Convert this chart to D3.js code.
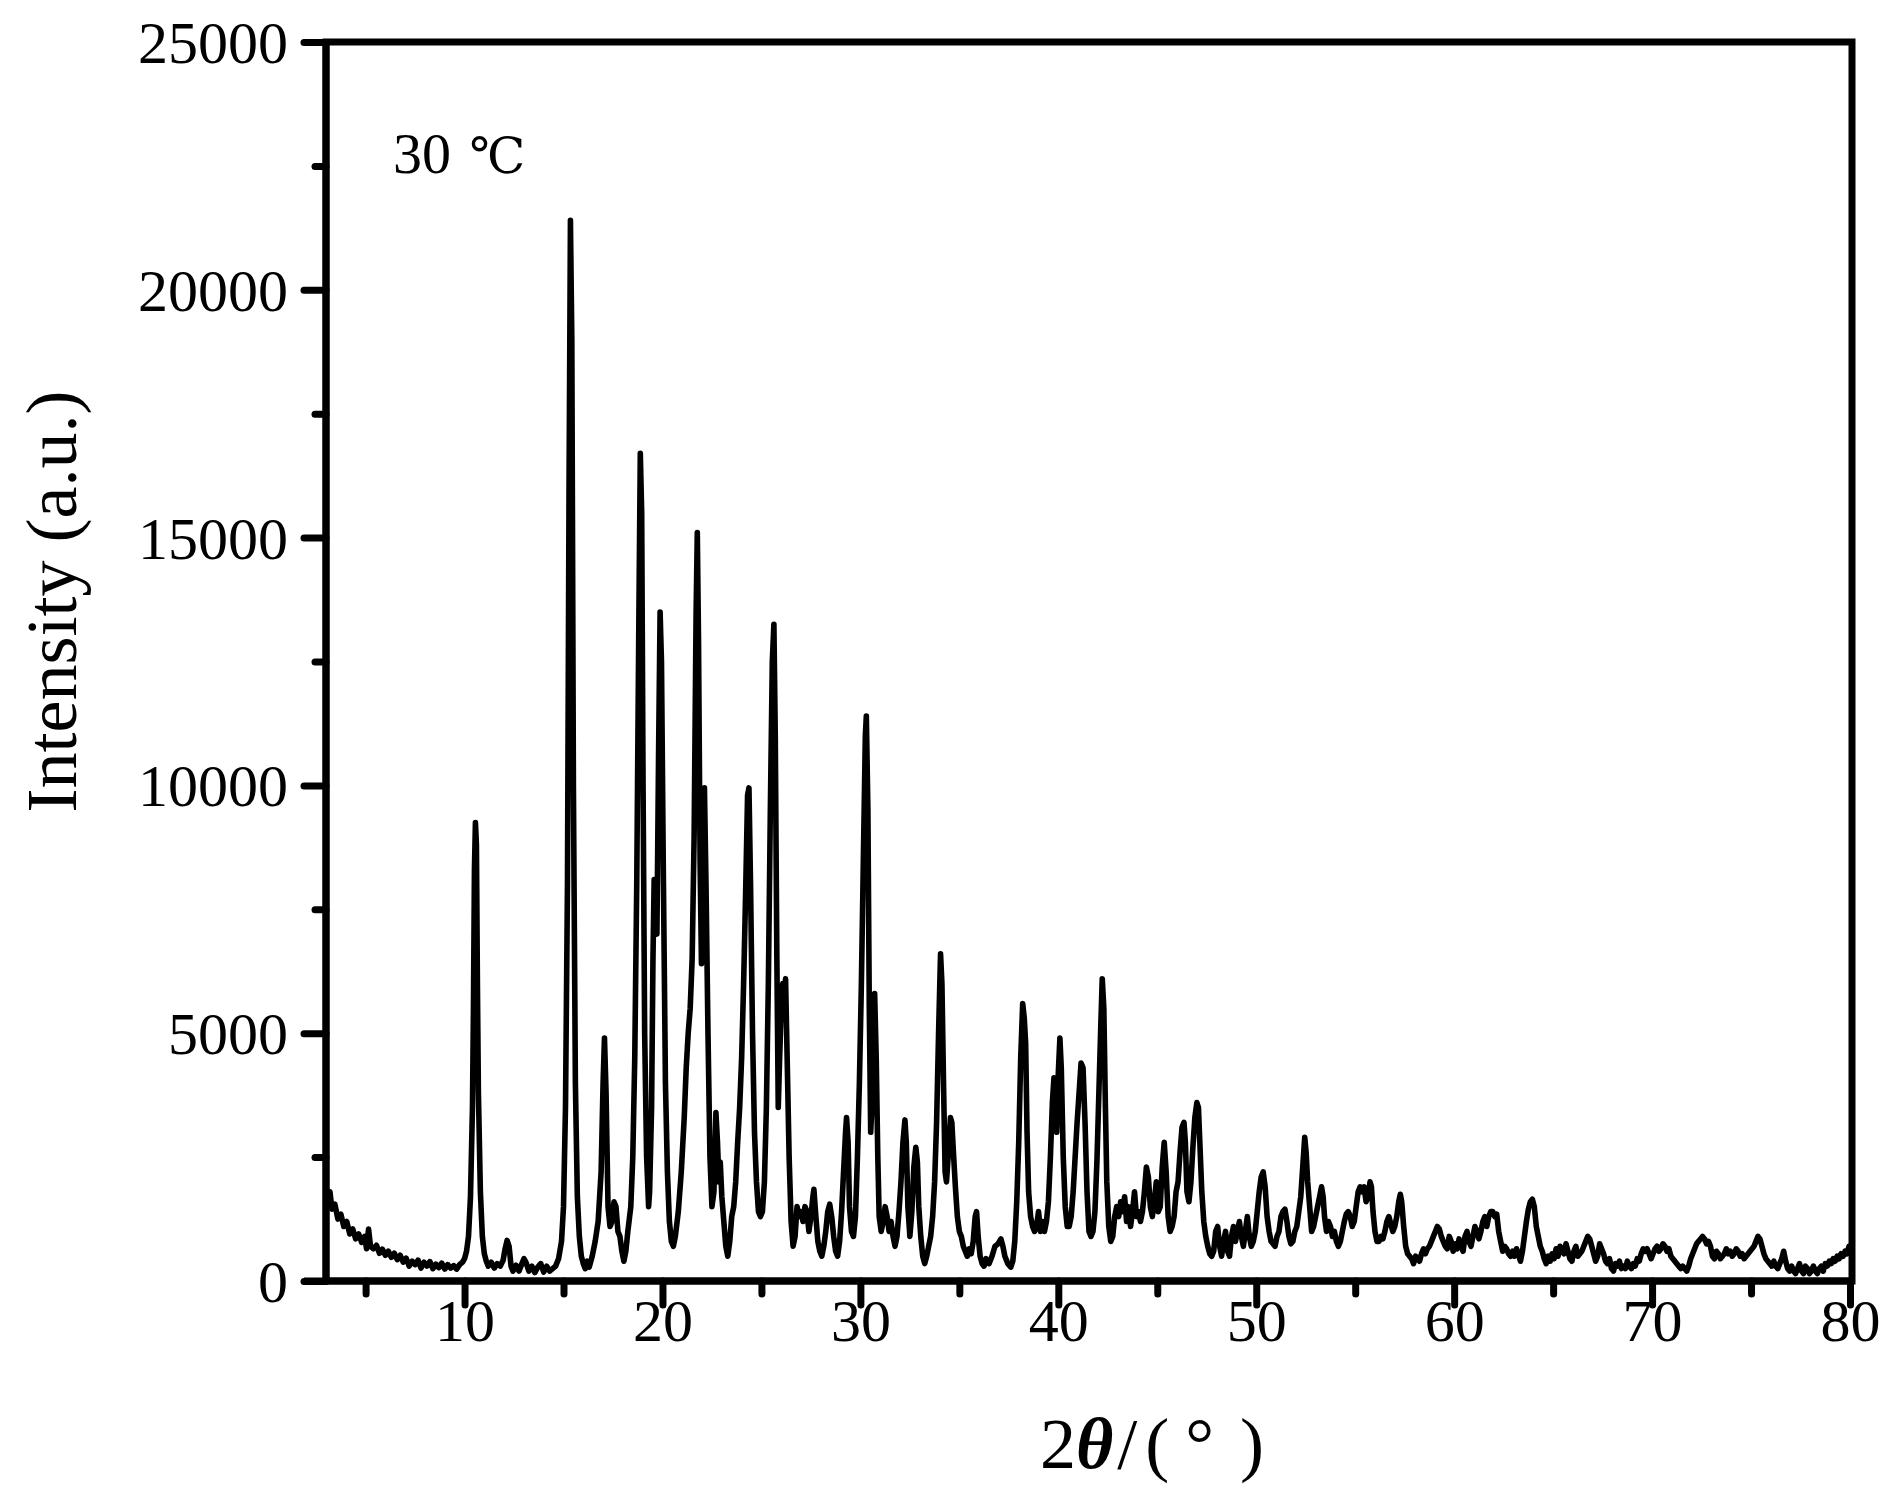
<!DOCTYPE html>
<html>
<head>
<meta charset="utf-8">
<script src="https://cdn.jsdelivr.net/npm/d3@7"></script>
<style>
  html, body { margin: 0; padding: 0; background: #fff; }
  svg { display: block; }
  text { font-family: "Times New Roman", "Liberation Serif", serif; fill: #000; }
</style>
</head>
<body>
<svg id="chart" width="1899" height="1490"></svg>
<script>
// ---- data ----
const sampleLabel = "30 ℃";
const xTickValues = [10, 20, 30, 40, 50, 60, 70, 80];
const xMinorTicks = [5, 15, 25, 35, 45, 55, 65, 75];
const yTickValues = [0, 5000, 10000, 15000, 20000, 25000];
const yMinorTicks = [2500, 7500, 12500, 17500, 22500];
const xDomain = [3, 80];
const yDomain = [0, 25000];

// XRD scan: [2θ (deg), intensity (a.u.)]
const xrdScan = [
[3.0,1750],[3.1,1500],[3.2,1800],[3.3,1450],[3.45,1550],[3.6,1250],[3.75,1350],[3.9,1100],[4.05,1200],[4.2,950],
[4.35,1050],[4.5,850],[4.65,950],[4.8,780],[4.95,900],[5.05,650],[5.15,1050],[5.25,700],[5.4,650],[5.55,720],
[5.7,560],[5.85,640],[6.0,520],[6.15,600],[6.3,480],[6.45,560],[6.6,430],[6.75,520],[6.9,380],[7.05,460],
[7.2,300],[7.35,400],[7.5,330],[7.65,420],[7.8,260],[7.95,380],[8.1,300],[8.25,390],[8.4,250],[8.55,340],
[8.7,270],[8.85,360],[9.0,240],[9.15,330],[9.3,260],[9.45,310],[9.6,240],[9.75,330],[9.9,380],[10.0,450],
[10.1,600],[10.2,900],[10.3,1700],[10.4,3500],[10.45,5500],[10.5,8300],[10.55,9250],[10.6,8800],[10.65,6000],[10.7,3800],
[10.8,1800],[10.9,900],[11.0,550],[11.1,400],[11.2,300],[11.35,380],[11.5,260],[11.65,350],[11.8,300],[11.95,420],
[12.05,650],[12.15,820],[12.25,700],[12.35,300],[12.45,200],[12.6,320],[12.75,200],[12.9,350],[13.0,450],[13.1,380],
[13.25,200],[13.4,300],[13.55,170],[13.7,280],[13.85,350],[14.0,180],[14.15,300],[14.3,200],[14.45,250],[14.6,300],
[14.75,450],[14.9,800],[15.0,1500],[15.1,3500],[15.2,8000],[15.28,16000],[15.35,21400],[15.42,19000],[15.5,10000],[15.6,4000],
[15.7,1700],[15.8,900],[15.9,500],[16.0,350],[16.1,250],[16.2,400],[16.3,280],[16.45,500],[16.6,800],[16.75,1200],
[16.9,2200],[17.0,4000],[17.07,4900],[17.15,3800],[17.25,1500],[17.35,1100],[17.45,1200],[17.55,1600],[17.65,1500],[17.75,1000],
[17.85,900],[17.95,600],[18.05,400],[18.15,600],[18.25,1000],[18.4,1500],[18.5,2500],[18.6,4500],[18.7,8000],[18.8,13000],
[18.88,16700],[18.95,15500],[19.02,10000],[19.1,5000],[19.2,2500],[19.3,1500],[19.35,1800],[19.45,3500],[19.52,6500],[19.58,8100],
[19.65,7200],[19.72,7000],[19.8,10500],[19.88,13500],[19.95,12500],[20.05,8000],[20.15,4000],[20.25,2200],[20.35,1200],[20.45,800],
[20.55,700],[20.65,900],[20.8,1400],[20.95,2200],[21.1,3300],[21.2,4300],[21.3,5000],[21.4,5500],[21.5,6500],[21.6,9000],
[21.7,13500],[21.76,15100],[21.82,13000],[21.9,8500],[21.97,6400],[22.05,8500],[22.12,9950],[22.2,8000],[22.3,5000],[22.4,2500],
[22.5,1500],[22.6,1800],[22.7,3400],[22.78,2800],[22.85,2000],[22.92,2400],[23.0,1700],[23.1,1200],[23.2,700],[23.3,500],
[23.4,800],[23.5,1300],[23.6,1500],[23.7,2000],[23.8,2800],[23.9,3500],[24.0,4500],[24.1,6000],[24.2,7800],[24.3,9800],
[24.37,9950],[24.45,8000],[24.55,5000],[24.65,3000],[24.75,2000],[24.85,1400],[24.95,1300],[25.05,1400],[25.15,2000],[25.25,3500],
[25.35,6000],[25.45,9500],[25.55,12500],[25.63,13250],[25.7,11000],[25.78,6500],[25.85,3500],[25.92,4500],[26.0,5500],[26.08,6000],
[26.15,5800],[26.22,6100],[26.3,4500],[26.4,2500],[26.5,1200],[26.6,700],[26.7,900],[26.8,1500],[26.9,1300],[27.0,1400],
[27.1,1200],[27.2,1500],[27.3,1400],[27.4,1000],[27.5,1300],[27.6,1700],[27.65,1850],[27.75,1300],[27.85,800],[27.95,600],
[28.05,500],[28.15,700],[28.25,1000],[28.35,1400],[28.45,1550],[28.55,1300],[28.65,900],[28.75,600],[28.85,500],[28.95,800],
[29.05,1400],[29.15,2200],[29.25,3000],[29.3,3300],[29.38,2800],[29.45,1500],[29.55,1000],[29.65,900],[29.75,1300],[29.85,2500],
[29.95,4000],[30.05,6000],[30.15,8500],[30.25,11000],[30.3,11400],[30.38,9500],[30.45,5500],[30.52,3000],[30.58,3500],[30.65,5000],
[30.72,5800],[30.8,4500],[30.88,2500],[30.95,1300],[31.05,1000],[31.15,1200],[31.25,1500],[31.35,1300],[31.45,1000],[31.55,1200],
[31.65,900],[31.75,700],[31.85,900],[31.95,1400],[32.05,2000],[32.15,2800],[32.25,3250],[32.32,2800],[32.4,1500],[32.5,900],
[32.6,1400],[32.7,2300],[32.8,2700],[32.88,2400],[32.95,1500],[33.05,900],[33.15,500],[33.25,350],[33.35,500],[33.45,700],
[33.55,900],[33.65,1300],[33.75,2000],[33.85,3200],[33.95,5000],[34.05,6600],[34.12,6000],[34.2,4000],[34.28,2200],[34.35,2000],
[34.45,2600],[34.55,3300],[34.62,3200],[34.7,2600],[34.8,1900],[34.9,1300],[35.0,1000],[35.1,900],[35.2,700],[35.3,600],
[35.4,500],[35.5,650],[35.6,550],[35.7,800],[35.8,1300],[35.87,1400],[35.95,900],[36.05,500],[36.15,350],[36.25,300],
[36.35,450],[36.5,350],[36.65,500],[36.8,700],[36.95,750],[37.1,850],[37.2,700],[37.3,500],[37.45,350],[37.6,280],
[37.7,400],[37.8,800],[37.9,1600],[38.0,2800],[38.1,4500],[38.2,5600],[38.28,5300],[38.35,4800],[38.42,3000],[38.5,1800],
[38.6,1300],[38.7,1100],[38.8,1000],[38.9,1100],[39.0,1400],[39.1,1000],[39.2,1200],[39.3,1000],[39.4,1200],[39.5,1600],
[39.6,2500],[39.7,3600],[39.78,4100],[39.85,3500],[39.92,3000],[40.0,4200],[40.08,4900],[40.15,4300],[40.25,2500],[40.35,1500],
[40.45,1100],[40.55,1100],[40.65,1300],[40.75,1800],[40.85,2500],[40.95,3200],[41.05,3800],[41.15,4400],[41.25,4300],[41.35,3200],
[41.45,1800],[41.55,1000],[41.65,900],[41.75,1000],[41.85,1400],[41.95,2400],[42.05,3800],[42.15,5200],[42.22,6100],[42.3,5500],
[42.38,3500],[42.45,2000],[42.55,1100],[42.65,800],[42.75,900],[42.85,1300],[42.95,1500],[43.05,1300],[43.15,1600],[43.25,1400],
[43.35,1700],[43.45,1200],[43.55,1500],[43.65,1100],[43.75,1400],[43.85,1800],[43.95,1300],[44.05,1400],[44.15,1200],[44.25,1400],
[44.35,1800],[44.45,2300],[44.55,2100],[44.65,1500],[44.75,1300],[44.85,1600],[44.95,2000],[45.05,1400],[45.15,1500],[45.25,2300],
[45.35,2800],[45.45,2200],[45.55,1300],[45.65,1000],[45.75,1100],[45.85,1300],[45.95,1800],[46.05,2000],[46.15,2600],[46.25,3100],
[46.35,3200],[46.42,2800],[46.5,1800],[46.6,1600],[46.7,2000],[46.8,2700],[46.9,3300],[47.0,3600],[47.08,3500],[47.15,2800],
[47.25,1800],[47.35,1200],[47.45,900],[47.55,700],[47.65,550],[47.75,500],[47.85,600],[47.95,1000],[48.05,1100],[48.15,700],
[48.25,500],[48.35,800],[48.45,1000],[48.55,600],[48.65,500],[48.75,900],[48.85,1100],[48.95,800],[49.05,1000],[49.15,1200],
[49.25,900],[49.35,700],[49.45,1000],[49.55,1300],[49.65,900],[49.75,700],[49.85,800],[49.95,1000],[50.05,1400],[50.15,1800],
[50.25,2100],[50.35,2200],[50.45,1900],[50.55,1300],[50.65,1000],[50.75,800],[50.85,750],[50.95,700],[51.05,900],[51.15,1000],
[51.25,1300],[51.35,1400],[51.45,1450],[51.55,1200],[51.65,900],[51.75,750],[51.85,800],[51.95,1000],[52.05,1100],[52.15,1400],
[52.25,1700],[52.35,2300],[52.45,2900],[52.52,2600],[52.6,2000],[52.7,1500],[52.8,1000],[52.9,1100],[53.0,1300],[53.1,1500],
[53.2,1700],[53.3,1900],[53.38,1700],[53.45,1300],[53.55,1000],[53.65,1200],[53.75,1100],[53.85,900],[53.95,1000],[54.05,800],
[54.15,700],[54.25,800],[54.35,1000],[54.45,1200],[54.55,1350],[54.65,1400],[54.75,1300],[54.85,1100],[54.95,1200],[55.05,1500],
[55.15,1800],[55.25,1900],[55.35,1800],[55.45,1900],[55.55,1600],[55.65,1700],[55.75,2000],[55.82,1900],[55.9,1400],[56.0,1000],
[56.1,800],[56.2,800],[56.3,900],[56.4,850],[56.5,1000],[56.6,1200],[56.7,1300],[56.8,1150],[56.9,1000],[57.0,1100],
[57.1,1300],[57.2,1600],[57.28,1750],[57.35,1600],[57.45,1100],[57.55,700],[57.65,550],[57.75,500],[57.85,450],[57.95,350],
[58.05,500],[58.15,450],[58.25,400],[58.35,550],[58.45,650],[58.55,550],[58.65,650],[58.75,700],[58.85,800],[58.95,900],
[59.05,1000],[59.15,1100],[59.25,1050],[59.35,900],[59.45,800],[59.55,700],[59.65,650],[59.75,900],[59.85,800],[59.95,600],
[60.05,750],[60.15,650],[60.25,850],[60.35,700],[60.45,600],[60.55,900],[60.65,1000],[60.75,800],[60.85,700],[60.95,900],
[61.05,1100],[61.15,1000],[61.25,850],[61.35,1000],[61.45,1200],[61.55,1300],[61.65,1100],[61.75,1300],[61.85,1400],[61.95,1400],
[62.05,1300],[62.15,1350],[62.25,1000],[62.35,800],[62.45,600],[62.55,700],[62.65,650],[62.75,550],[62.85,500],[62.95,600],
[63.05,500],[63.15,650],[63.25,550],[63.35,400],[63.45,600],[63.55,900],[63.65,1200],[63.75,1450],[63.85,1600],[63.95,1650],
[64.05,1500],[64.15,1100],[64.25,900],[64.35,700],[64.45,600],[64.55,450],[64.65,350],[64.75,500],[64.85,400],[64.95,550],
[65.05,450],[65.15,650],[65.25,500],[65.35,700],[65.45,600],[65.55,550],[65.65,750],[65.75,600],[65.85,450],[65.95,400],
[66.05,600],[66.15,700],[66.25,500],[66.35,550],[66.45,600],[66.55,700],[66.65,800],[66.75,900],[66.85,850],[66.95,700],
[67.05,550],[67.15,400],[67.25,500],[67.35,750],[67.45,650],[67.55,550],[67.65,400],[67.75,350],[67.85,450],[67.95,250],
[68.05,200],[68.15,350],[68.25,300],[68.35,400],[68.45,250],[68.55,300],[68.65,250],[68.75,400],[68.85,300],[68.95,250],
[69.05,350],[69.15,300],[69.25,450],[69.35,400],[69.45,550],[69.55,650],[69.65,600],[69.75,650],[69.85,550],[69.95,450],
[70.05,550],[70.15,650],[70.25,700],[70.35,600],[70.45,650],[70.55,750],[70.65,700],[70.75,600],[70.85,650],[70.95,500],
[71.05,450],[71.15,400],[71.25,350],[71.35,300],[71.45,250],[71.55,300],[71.65,250],[71.75,200],[71.85,300],[71.95,450],
[72.05,550],[72.15,650],[72.25,750],[72.35,800],[72.45,850],[72.55,900],[72.65,850],[72.75,750],[72.85,800],[72.95,700],
[73.05,500],[73.15,450],[73.25,600],[73.35,550],[73.45,450],[73.55,500],[73.65,550],[73.75,650],[73.85,550],[73.95,600],
[74.05,500],[74.15,550],[74.25,650],[74.35,600],[74.45,500],[74.55,550],[74.65,450],[74.75,500],[74.85,550],[74.95,600],
[75.05,650],[75.15,700],[75.25,800],[75.35,900],[75.45,850],[75.55,700],[75.65,550],[75.75,450],[75.85,400],[75.95,350],
[76.05,300],[76.15,400],[76.25,300],[76.35,250],[76.45,350],[76.55,450],[76.65,600],[76.75,400],[76.85,250],[76.95,200],
[77.05,300],[77.15,200],[77.25,150],[77.35,250],[77.45,350],[77.55,200],[77.65,150],[77.75,300],[77.85,250],[77.95,150],
[78.05,200],[78.15,300],[78.25,200],[78.35,150],[78.45,250],[78.55,300],[78.65,200],[78.75,350],[78.85,300],[78.95,400],
[79.05,350],[79.15,450],[79.25,400],[79.35,500],[79.45,450],[79.55,550],[79.65,500],[79.75,600],[79.85,550],[79.95,700],
[80.0,650]
];

// ---- layout ----
const plot = { left: 326, right: 1850, top: 42, bottom: 1281 };
const svg = d3.select("#chart");

const x = d3.scaleLinear().domain(xDomain).range([plot.left, plot.right]);
const y = d3.scaleLinear().domain(yDomain).range([plot.bottom, plot.top]);

const axisStroke = 7;
const serif = '"Times New Roman", "Liberation Serif", serif';

// data line
const line = d3.line().x(d => x(d[0])).y(d => y(d[1]));
svg.append("path")
  .datum(xrdScan)
  .attr("d", line)
  .attr("fill", "none")
  .attr("stroke", "#000")
  .attr("stroke-width", 5.6)
  .attr("stroke-linejoin", "round");

// frame (top & right)
svg.append("rect")
  .attr("x", plot.left).attr("y", plot.top)
  .attr("width", plot.right - plot.left + 2).attr("height", plot.bottom - plot.top)
  .attr("fill", "none").attr("stroke", "#000").attr("stroke-width", axisStroke);

// Bottom axis (major)
const gx = svg.append("g").attr("transform", `translate(0,${plot.bottom})`)
  .call(d3.axisBottom(x).tickValues(xTickValues).tickSize(24).tickPadding(8).tickFormat(d3.format("d")));
gx.select(".domain").attr("stroke-width", axisStroke).attr("d", `M${plot.left - 22},0H${plot.right + 2}`);
gx.selectAll(".tick line").attr("stroke-width", axisStroke).attr("stroke-linecap", "round");
gx.selectAll(".tick text")
  .attr("y", 60).attr("dy", 0)
  .style("font-size", "60px")
  .style("font-family", serif);

// Bottom axis minor
const gxm = svg.append("g").attr("transform", `translate(0,${plot.bottom})`)
  .call(d3.axisBottom(x).tickValues(xMinorTicks).tickSize(13).tickFormat(""));
gxm.select(".domain").remove();
gxm.selectAll(".tick line").attr("stroke-width", axisStroke).attr("stroke-linecap", "round");

// Left axis (major)
const gy = svg.append("g").attr("transform", `translate(${plot.left},0)`)
  .call(d3.axisLeft(y).tickValues(yTickValues).tickSize(22).tickPadding(16).tickFormat(d3.format("d")));
gy.select(".domain").attr("stroke-width", axisStroke).attr("d", `M0,${plot.bottom}V${plot.top}`);
gy.selectAll(".tick line").attr("stroke-width", axisStroke).attr("stroke-linecap", "round");
gy.selectAll(".tick text")
  .attr("dy", "0.34em")
  .style("font-size", "60px")
  .style("font-family", serif);

// Left axis minor
const gym = svg.append("g").attr("transform", `translate(${plot.left},0)`)
  .call(d3.axisLeft(y).tickValues(yMinorTicks).tickSize(11).tickFormat(""));
gym.select(".domain").remove();
gym.selectAll(".tick line").attr("stroke-width", axisStroke).attr("stroke-linecap", "round");

// Axis titles
svg.append("text")
  .attr("transform", `translate(76,${(plot.top + plot.bottom) / 2 - 60}) rotate(-90)`)
  .attr("text-anchor", "middle")
  .style("font-size", "72px")
  .text("Intensity (a.u.)");

const xt = svg.append("text")
  .attr("x", 1152).attr("y", 1468)
  .attr("text-anchor", "middle")
  .style("font-size", "72px");
xt.append("tspan").text("2");
xt.append("tspan").style("font-style", "italic").style("font-weight", "bold").text("θ");
xt.append("tspan").attr("dx", 4).text("/");
xt.append("tspan").attr("dx", 8).text("(");
xt.append("tspan").attr("dx", 16).text("°");
xt.append("tspan").attr("dx", 26).text(")");

// Sample label
const sl = svg.append("text")
  .attr("x", 393).attr("y", 173)
  .style("font-size", "58px");
sl.append("tspan").text(sampleLabel.split(" ")[0] + " ");
sl.append("tspan").style("font-family", '"DejaVu Serif", "Liberation Serif", serif')
  .style("font-size", "50px").attr("dx", 4).text(sampleLabel.split(" ")[1]);
</script>
</body>
</html>
